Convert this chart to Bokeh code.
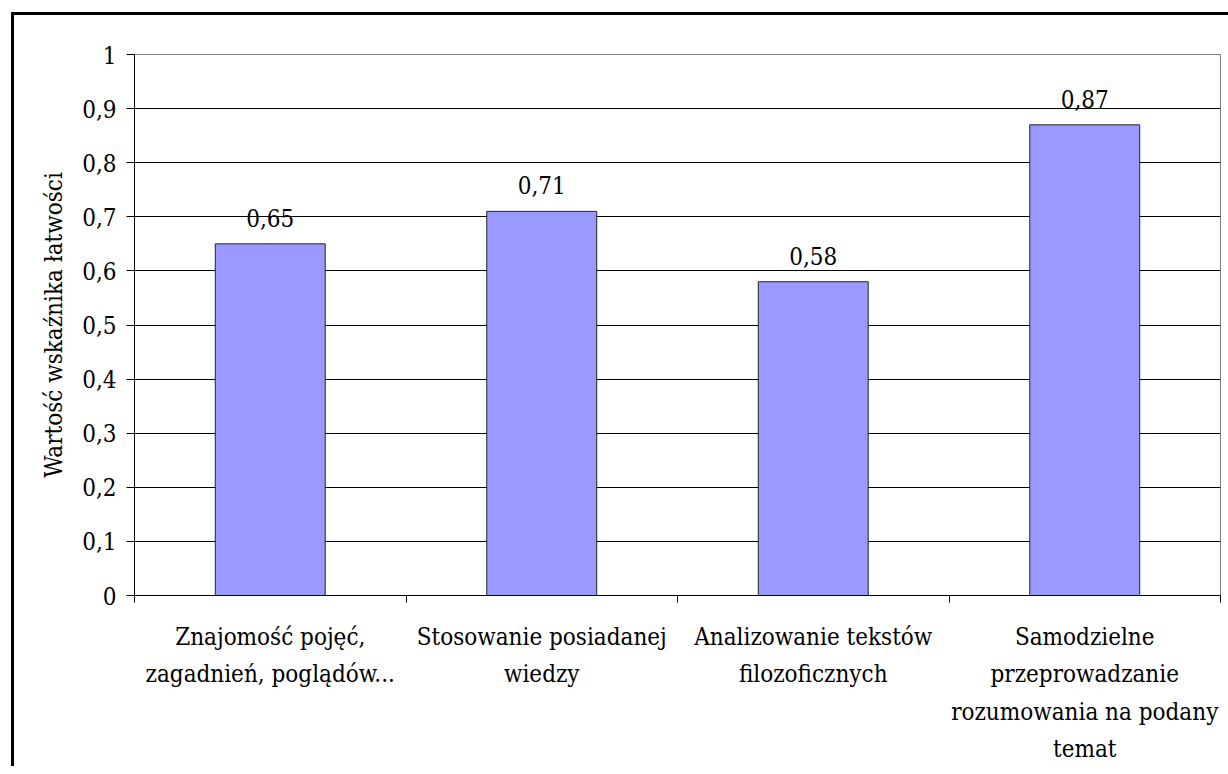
from bokeh.plotting import figure
from bokeh.models import Range1d, FixedTicker, CustomJSTickFormatter, ColumnDataSource
from bokeh.core.properties import value
from bokeh.embed import file_html
from bokeh.resources import INLINE

categories = [
    "Znajomość pojęć,\nzagadnień, poglądów...",
    "Stosowanie posiadanej\nwiedzy",
    "Analizowanie tekstów\nfilozoficznych",
    "Samodzielne\nprzeprowadzanie\nrozumowania na podany\ntemat",
]
values = [0.65, 0.71, 0.58, 0.87]
value_labels = ["0,65", "0,71", "0,58", "0,87"]
y_ticks = [0, 0.1, 0.2, 0.3, 0.4, 0.5, 0.6, 0.7, 0.8, 0.9, 1.0]
y_label = "Wartość wskaźnika łatwości"

FONT = "DejaVu Serif Condensed"
FS = "24px"

n = len(categories)
centers = [i + 0.5 for i in range(n)]
bounds = [i for i in range(n + 1)]

src = ColumnDataSource(dict(x=centers, top=values, lab=value_labels))

p = figure(
    width=1214, height=751,
    frame_width=1086, frame_height=541,
    min_border_left=120, min_border_top=39, min_border_right=8, min_border_bottom=171,
    x_range=Range1d(0, n), y_range=Range1d(0, 1),
    output_backend="svg", toolbar_location=None, tools="",
)
p.styles = {"margin-left": "11px", "margin-top": "12px",
            "border-left": "3px solid black", "border-top": "3px solid black"}

p.background_fill_color = "white"
p.border_fill_color = "white"
p.outline_line_color = "#808080"
p.outline_line_width = 1

p.vbar(x="x", top="top", bottom=0, width=0.405, source=src,
       fill_color="#9999FF", line_color="#222222", line_width=1)

p.text(x="x", y="top", text="lab", source=src, y_offset=-26,
       text_align="center", text_baseline="alphabetic",
       text_font=value(FONT), text_font_size=FS, text_color="black")

# y axis
p.yaxis.ticker = FixedTicker(ticks=y_ticks)
p.yaxis.formatter = CustomJSTickFormatter(code="""
const s = (Math.round(tick*10)/10).toString();
return s.replace('.', ',');
""")
p.yaxis.axis_label = y_label
p.yaxis.axis_label_text_font = FONT
p.yaxis.axis_label_text_font_size = FS
p.yaxis.axis_label_text_font_style = "normal"
p.yaxis.axis_label_text_color = "black"
p.yaxis.axis_label_standoff = 11
p.yaxis.major_label_text_font = FONT
p.yaxis.major_label_text_font_size = FS
p.yaxis.major_label_text_color = "black"
p.yaxis.major_label_standoff = 10
p.yaxis.major_tick_out = 8
p.yaxis.major_tick_in = 0
p.yaxis.minor_tick_out = 0
p.yaxis.minor_tick_in = 0
p.yaxis.axis_line_color = "black"
p.yaxis.major_tick_line_color = "black"

# x axis
p.xaxis.ticker = FixedTicker(ticks=centers, minor_ticks=bounds)
p.xaxis.formatter = CustomJSTickFormatter(args=dict(labels=categories), code="""
return labels[Math.floor(tick)];
""")
p.xaxis.major_label_text_font = FONT
p.xaxis.major_label_text_font_size = FS
p.xaxis.major_label_text_color = "black"
p.xaxis.major_label_text_line_height = 1.34
p.xaxis.major_label_standoff = 20
p.xaxis.major_tick_out = 0
p.xaxis.major_tick_in = 0
p.xaxis.minor_tick_out = 7
p.xaxis.minor_tick_in = 0
p.xaxis.minor_tick_line_color = "black"
p.xaxis.axis_line_color = "black"

# grids
p.xgrid.visible = False
p.ygrid.ticker = FixedTicker(ticks=y_ticks[1:-1])
p.ygrid.grid_line_color = "black"
p.ygrid.grid_line_width = 1

open("out.html", "w").write(file_html(p, INLINE))
